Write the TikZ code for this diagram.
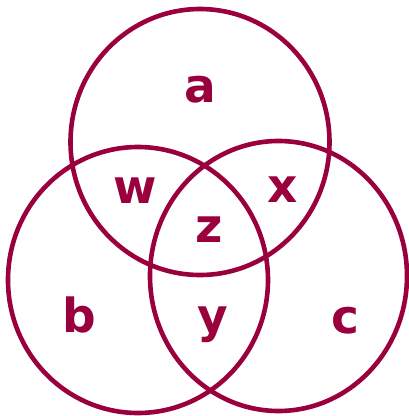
\documentclass[tikz,border=0pt]{standalone}
\usepackage{fontspec}
\setmainfont{DejaVu Sans}
\definecolor{venn}{HTML}{99003D}
\begin{document}
\begin{tikzpicture}[x=1pt,y=-1pt,
    every node/.style={font=\fontsize{47}{50}\selectfont\bfseries,text=venn,anchor=base,inner sep=0pt},
    set/.style={draw=venn,line width=4.6pt}]
    \useasboundingbox (0,0) rectangle (409,416);
    % three sets
    \draw[set] (200,142) ellipse [x radius=129.5, y radius=133];
    \draw[set] (138,280) ellipse [x radius=130, y radius=133];
    \draw[set] (278.5,276) ellipse [x radius=128.5, y radius=135];
    % region labels
    \node (lblA) at (200,102) {a};
    \node (lblW) at (135,203) {w};
    \node (lblX) at (283,202) {x};
    \node (lblZ) at (209,242) {z};
    \node (lblB) at (79,332) {b};
    \node (lblY) at (213,332) {y};
    \node (lblC) at (345,333) {c};
  \end{tikzpicture}
\end{document}
